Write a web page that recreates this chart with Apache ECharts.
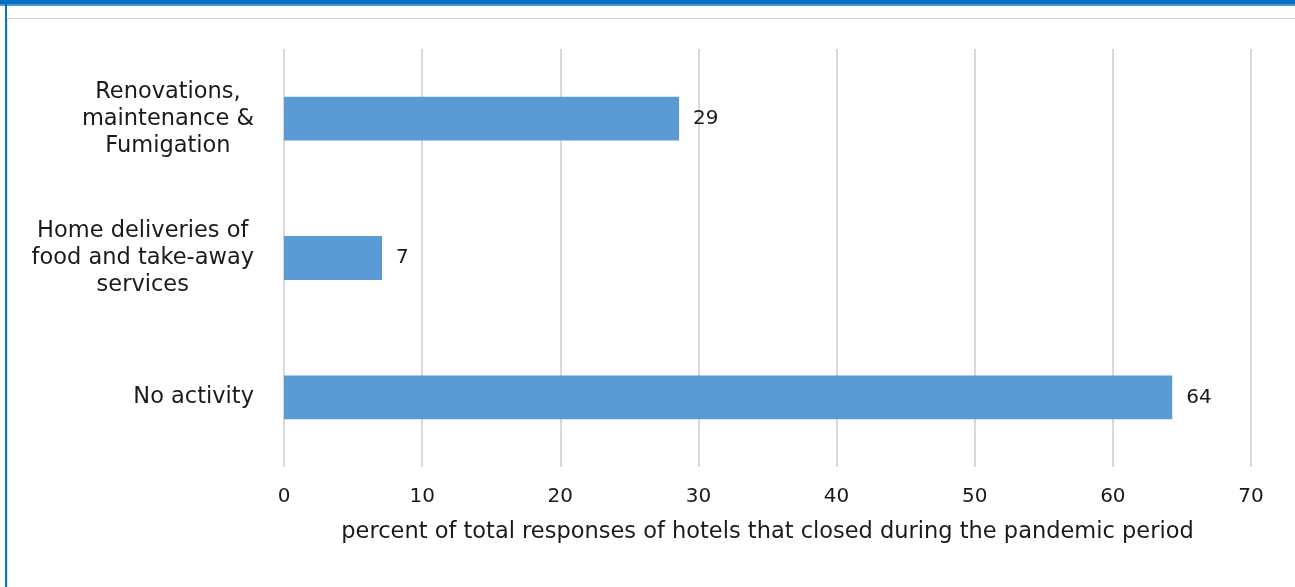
<!DOCTYPE html>
<html>
<head>
<meta charset="utf-8">
<script src="https://cdn.jsdelivr.net/npm/echarts@6/dist/echarts.min.js"></script>
<style>
  html, body { margin: 0; padding: 0; background: #ffffff; }
  #chart { width: 1295px; height: 587px; }
</style>
</head>
<body>
<div id="chart"></div>
<script>
// Activities of hotels that closed during the pandemic period
const categories = [
  'No activity',
  'Home deliveries of\nfood and take-away\nservices',
  'Renovations,\nmaintenance &\nFumigation'
];
const shares = [64.3, 7.1, 28.6];
const xTicks = [0, 10, 20, 30, 40, 50, 60, 70];
const axisTitle = 'percent of total responses of hotels that closed during the pandemic period';

const FONT = '"DejaVu Sans", "Open Sans", sans-serif';
const INK = '#1a1a1a';
const chart = echarts.init(document.getElementById('chart'), null, { renderer: 'canvas' });

chart.setOption({
  backgroundColor: '#ffffff',
  animation: false,
  textStyle: { fontFamily: FONT },
  grid: { left: 284, right: 44, top: 49, bottom: 120, containLabel: false },
  xAxis: {
    type: 'value',
    min: xTicks[0],
    max: xTicks[xTicks.length - 1],
    interval: xTicks[1] - xTicks[0],
    axisLine: { show: false },
    axisTick: { show: false },
    splitLine: { show: true, lineStyle: { color: '#d9d9d9', width: 2 } },
    axisLabel: { color: INK, fontSize: 20, fontFamily: FONT, margin: 20 },
    name: axisTitle,
    nameLocation: 'middle',
    nameGap: 54,
    nameTextStyle: { color: INK, fontSize: 22.5, fontFamily: FONT }
  },
  yAxis: {
    type: 'category',
    data: categories,
    axisLine: { show: false },
    axisTick: { show: false },
    axisLabel: {
      margin: 30,
      align: 'right',
      formatter: v => v.split('\n').map(s => '{c|' + s + '}').join('\n'),
      rich: {
        c: { align: 'center', color: INK, fontSize: 22.5, fontFamily: FONT, lineHeight: 27 }
      }
    }
  },
  series: [{
    type: 'bar',
    data: shares,
    barWidth: '31.5%',
    itemStyle: { color: '#5b9bd5' },
    label: {
      show: true,
      position: 'right',
      distance: 14,
      color: INK,
      fontSize: 20,
      fontFamily: FONT,
      formatter: p => Math.round(p.value)
    }
  }],
  graphic: [
    { type: 'rect', shape: { x: 0, y: 0, width: 1295, height: 4 }, style: { fill: '#0070c0' }, silent: true },
    { type: 'rect', shape: { x: 0, y: 4, width: 1295, height: 2 }, style: { fill: '#4f95d3' }, silent: true },
    { type: 'rect', shape: { x: 5, y: 4, width: 2, height: 583 }, style: { fill: '#0a74c8' }, silent: true },
    { type: 'rect', shape: { x: 7, y: 18, width: 1288, height: 1 }, style: { fill: '#d4d4d4' }, silent: true },
    { type: 'rect', shape: { x: 7, y: 18, width: 1, height: 569 }, style: { fill: '#e2e2e2' }, silent: true }
  ]
});
</script>
</body>
</html>
